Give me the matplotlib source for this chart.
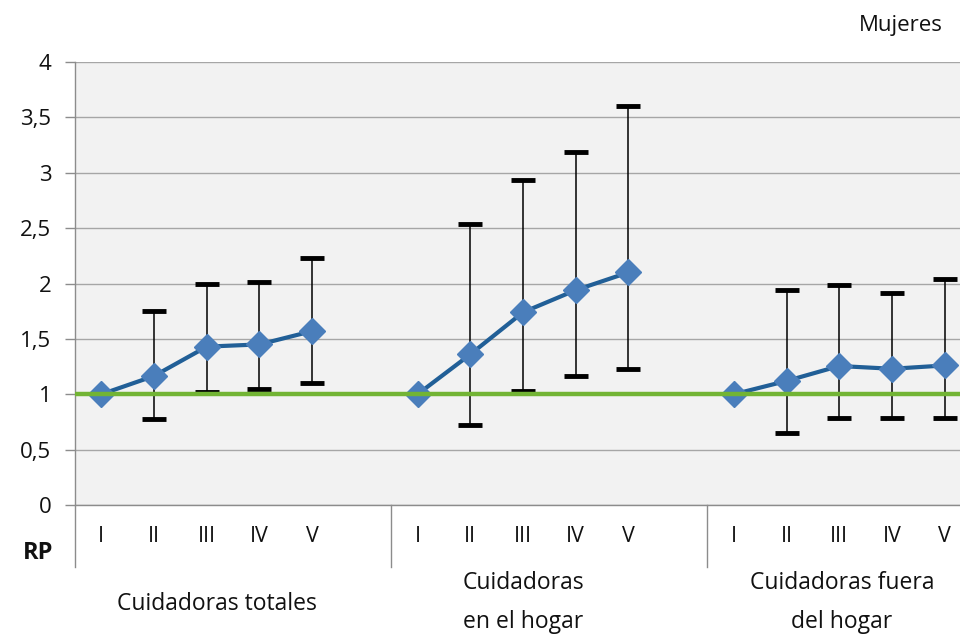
import matplotlib
matplotlib.use("Agg")
import matplotlib.pyplot as plt
import numpy as np

plt.rcParams['font.family'] = ['Open Sans', 'DejaVu Sans']

quintiles = ["I", "II", "III", "IV", "V"]
groups = ["Cuidadoras totales", "Cuidadoras\nen el hogar", "Cuidadoras fuera\ndel hogar"]

rp_totales = [1.00, 1.165, 1.43, 1.45, 1.57]
lo_totales = [1.00, 0.78, 1.02, 1.05, 1.10]
hi_totales = [1.00, 1.75, 2.00, 2.01, 2.23]

rp_hogar = [1.00, 1.36, 1.74, 1.94, 2.10]
lo_hogar = [1.00, 0.72, 1.03, 1.165, 1.23]
hi_hogar = [1.00, 2.54, 2.935, 3.19, 3.60]

rp_fuera = [1.00, 1.12, 1.255, 1.23, 1.26]
lo_fuera = [1.00, 0.65, 0.785, 0.785, 0.785]
hi_fuera = [1.00, 1.94, 1.99, 1.91, 2.04]

yticks = [0, 0.5, 1, 1.5, 2, 2.5, 3, 3.5, 4]
ytick_labels = ["0", "0,5", "1", "1,5", "2", "2,5", "3", "3,5", "4"]

W, H = 960, 635
fig = plt.figure(figsize=(W / 100, H / 100), dpi=100)
left_px, right_px, top_px, bot_px = 75, 971, 62, 505
ax = fig.add_axes([left_px / W, 1 - bot_px / H, (right_px - left_px) / W, (bot_px - top_px) / H])
ax.set_facecolor('#f2f2f2')
ax.set_xlim(-0.5, 16.5)
ax.set_ylim(0, 4)

grid_c = '#a6a6a6'
spine_c = '#8c8c8c'
txt_c = '#111111'
for s in ['top', 'right']:
    ax.spines[s].set_visible(False)
ax.spines['left'].set_visible(False)
ax.spines['bottom'].set_color(spine_c)
ax.spines['bottom'].set_linewidth(1.0)

ax.set_yticks(yticks)
ax.set_yticklabels(ytick_labels, fontsize=16, color=txt_c)
ax.tick_params(axis='y', length=7, color=spine_c, width=1.0, pad=10)
ax.set_xticks([])
ax.yaxis.grid(True, color=grid_c, linewidth=1.0)
ax.set_axisbelow(True)

line_c = '#215f97'
mark_c = '#4a7ebb'
series = [(rp_totales, lo_totales, hi_totales),
          (rp_hogar, lo_hogar, hi_hogar),
          (rp_fuera, lo_fuera, hi_fuera)]
for gi, (rp, lo, hi) in enumerate(series):
    x = np.arange(5) + gi * 6
    rp = np.array(rp); lo = np.array(lo); hi = np.array(hi)
    yerr = np.vstack([rp - lo, hi - rp])
    ax.errorbar(x[1:], rp[1:], yerr=yerr[:, 1:], fmt='none', ecolor='black',
                elinewidth=1.1, capsize=8.5, capthick=3.5, zorder=3)
    ax.plot(x, rp, color=line_c, linewidth=3.0, zorder=4)
    ax.plot(x, rp, linestyle='none', marker='D', markersize=13,
            markerfacecolor=mark_c, markeredgecolor=mark_c, zorder=5)

ax.axhline(1, color='#72b434', linewidth=3.2, zorder=6)

# category axis below
ybot = -(567 - bot_px) / ((bot_px - top_px) / 4)
ax.plot([-0.5, -0.5], [4, ybot], color=spine_c, linewidth=1.0, clip_on=False)
for sx in [5.5, 11.5]:
    ax.plot([sx, sx], [0, ybot], color=spine_c, linewidth=1.0, clip_on=False)

ylab = -(537 - bot_px) / ((bot_px - top_px) / 4)
for gi in range(3):
    for qi, q in enumerate(quintiles):
        ax.text(gi * 6 + qi, ylab, q, ha='center', va='center', fontsize=15.5,
                color=txt_c, clip_on=False)

fig.text(38 / W, 1 - 553 / H, "RP", ha='center', va='center', fontsize=17,
         fontweight='bold', color=txt_c)

group_x = [2.2, 8.0, 14.05]
for gi, g in enumerate(groups):
    lines = g.split("\n")
    if len(lines) == 1:
        ys = [604]
    else:
        ys = [583, 622]
    for ln, ypx in zip(lines, ys):
        yd = -(ypx - bot_px) / ((bot_px - top_px) / 4)
        ax.text(group_x[gi], yd, ln, ha='center', va='center', fontsize=16.5,
                color=txt_c, clip_on=False)

fig.text(901 / W, 1 - 25 / H, "Mujeres", ha='center', va='center', fontsize=16,
         color=txt_c)

fig.savefig("out.png", dpi=100)
